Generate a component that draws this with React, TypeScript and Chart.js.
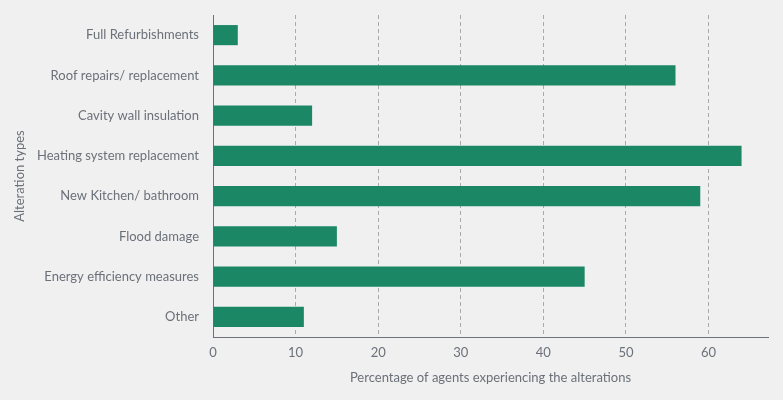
import React, { useEffect, useRef } from "react";
import { Chart, registerables } from "chart.js";

Chart.register(...registerables);

const categories = [
  "Full Refurbishments",
  "Roof repairs/ replacement",
  "Cavity wall insulation",
  "Heating system replacement",
  "New Kitchen/ bathroom",
  "Flood damage",
  "Energy efficiency measures",
  "Other",
];
const values = [3, 56, 12, 64, 59, 15, 45, 11];
const xTicks = [0, 10, 20, 30, 40, 50, 60];
const xMax = 67.2;

const TEXT = "#6b7079";
const AXIS = "#6b7079";
const FONT = "Lato, 'Open Sans', sans-serif";

export default function App() {
  const ref = useRef<HTMLCanvasElement>(null);
  useEffect(() => {
    document.body.style.margin = "0";
    const ctx = ref.current!;
    const chart = new Chart(ctx, {
      type: "bar",
      data: {
        labels: categories,
        datasets: [
          {
            data: values,
            backgroundColor: "#1b8764",
            barPercentage: 0.5,
            categoryPercentage: 1,
          },
        ],
      },
      options: {
        indexAxis: "y",
        animation: false,
        responsive: false,
        maintainAspectRatio: false,
        layout: { padding: { top: 15, right: 15, left: 12, bottom: 0 } },
        plugins: { legend: { display: false }, tooltip: { enabled: false } },
        scales: {
          x: {
            min: 0,
            max: xMax,
            afterBuildTicks: (s: any) => {
              s.ticks = xTicks.map((v) => ({ value: v }));
            },
            afterFit: (s: any) => {
              s.height = 63;
              s.paddingLeft = 0;
              s.paddingRight = 0;
            },
            grid: {
              drawOnChartArea: true,
              drawTicks: false,
              color: (c: any) => (c.tick && c.tick.value === 0 ? "rgba(0,0,0,0)" : "#a9a9a9"),
              lineWidth: 1,
            },
            border: { display: true, color: AXIS, width: 1, dash: [4, 3] },
            ticks: { color: TEXT, font: { family: FONT, size: 13 }, padding: 8 },
            title: {
              display: true,
              text: "Percentage of agents experiencing the alterations",
              color: TEXT,
              font: { family: FONT, size: 13 },
              padding: { top: 0, bottom: 14 },
            },
          },
          y: {
            grid: { display: false, drawTicks: false },
            border: { display: true, color: AXIS, width: 1 },
            ticks: { color: TEXT, font: { family: FONT, size: 13 }, padding: 14 },
            afterFit: (s: any) => {
              s.width = 201;
              s.paddingTop = 0;
              s.paddingBottom = 0;
            },
            title: {
              display: true,
              text: "Alteration types",
              color: TEXT,
              font: { family: FONT, size: 13 },
              padding: { top: 0, bottom: 0 },
            },
          },
        },
      },
    } as any);
    return () => chart.destroy();
  }, []);
  return (
    <div style={{ position: "absolute", left: 0, top: 0, width: 783, height: 400, background: "#f0f0f0" }}>
      <canvas ref={ref} width={783} height={400} style={{ display: "block" }} />
    </div>
  );
}
